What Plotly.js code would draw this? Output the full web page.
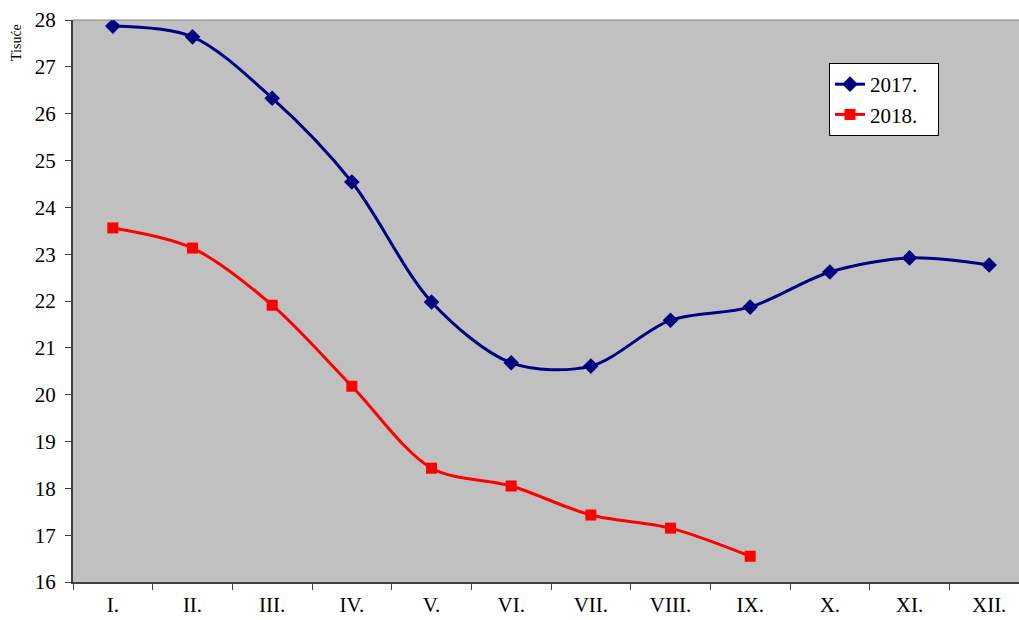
<!DOCTYPE html>
<html>
<head>
<meta charset="utf-8">
<script src="https://cdn.plot.ly/plotly-3.0.1.min.js"></script>
<style>html,body{margin:0;padding:0;overflow:hidden;background:#fff;}</style>
</head>
<body>
<div id="chart" style="width:1029px;height:620px;"></div>
<script>
const months = ['I.','II.','III.','IV.','V.','VI.','VII.','VIII.','IX.','X.','XI.','XII.'];
const values2017 = [27.87, 27.64, 26.33, 24.54, 21.98, 20.68, 20.61, 21.59, 21.87, 22.62, 22.92, 22.77];
const months2018 = ['I.','II.','III.','IV.','V.','VI.','VII.','VIII.','IX.'];
const values2018 = [23.56, 23.13, 21.91, 20.18, 18.43, 18.05, 17.43, 17.15, 16.55];
const seriesNames = ['2017.\u00a0\u00a0\u00a0', '2018.\u00a0\u00a0\u00a0'];

const font = 'Liberation Serif, Times New Roman, serif';
const traces = [
  {x: months, y: values2017, name: seriesNames[0], mode: 'lines+markers', legendgroup: 'a',
   line: {color: '#000080', width: 3, shape: 'spline', smoothing: 0.9},
   marker: {symbol: 'diamond', size: 12, color: '#000080'}},
  {x: months2018, y: values2018, name: seriesNames[1], mode: 'lines+markers', legendgroup: 'b',
   line: {color: '#FF0000', width: 3, shape: 'spline', smoothing: 0.9},
   marker: {symbol: 'square', size: 11, color: '#FF0000'}}
];
const layout = {
  width: 1029, height: 620,
  margin: {l: 73, r: 0, t: 20, b: 38},
  paper_bgcolor: '#ffffff', plot_bgcolor: '#C0C0C0',
  font: {family: font, size: 21, color: '#000'},
  showlegend: true,
  legend: {x: (829 - 73) / 956, y: 1 - (63 - 20) / 562, xanchor: 'left', yanchor: 'top',
           bgcolor: '#ffffff', bordercolor: '#000', borderwidth: 1,
           font: {family: font, size: 21, color: '#000'}, tracegroupgap: 0},
  xaxis: {type: 'category', categoryorder: 'array', categoryarray: months,
          range: [-0.5, 11.5], showgrid: false, zeroline: false,
          showline: true, linecolor: '#404040', linewidth: 2,
          ticks: 'outside', tickson: 'boundaries', ticklen: 6, tickcolor: '#404040',
          ticklabelstandoff: 3,
          tickfont: {family: font, size: 21}},
  yaxis: {range: [16, 28], dtick: 1, showgrid: false, zeroline: false,
          showline: true, linecolor: '#404040', linewidth: 2,
          ticks: 'outside', ticklen: 6, tickcolor: '#404040',
          ticklabelstandoff: 5,
          tickfont: {family: font, size: 21}},
  shapes: [{type: 'line', xref: 'paper', yref: 'paper', x0: 0, x1: 1, y0: 1, y1: 1,
            line: {color: '#808080', width: 1}}],
  annotations: [{text: 'Tisuće', xref: 'paper', yref: 'paper',
                 x: (16 - 73) / 956, y: 1 - (43 - 20) / 562, textangle: -90,
                 showarrow: false, xanchor: 'center', yanchor: 'middle',
                 font: {family: font, size: 14, color: '#000'}}]
};
Plotly.newPlot('chart', traces, layout, {displayModeBar: false, staticPlot: true});
</script>
</body>
</html>
